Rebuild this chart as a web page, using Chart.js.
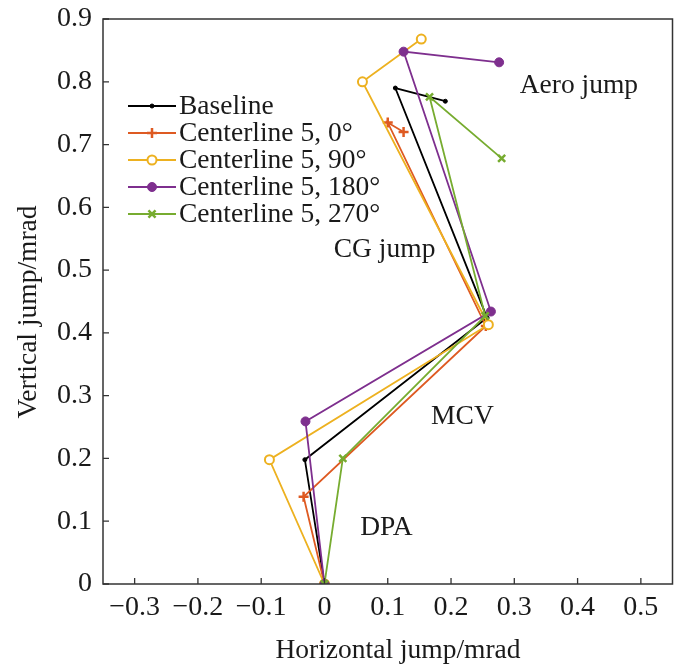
<!DOCTYPE html>
<html>
<head>
<meta charset="utf-8">
<title>Jump components</title>
<script src="https://cdn.jsdelivr.net/npm/chart.js@4/dist/chart.umd.min.js"></script>
<style>
  html, body { margin: 0; padding: 0; background: #fff; }
  #wrap { width: 680px; height: 669px; }
</style>
</head>
<body>
<div id="wrap"><canvas id="jump-chart" width="680" height="669"></canvas></div>
<script>
// Jump path for each case: origin -> DPA -> MCV -> CG jump -> aero jump
const seriesNames = ['Baseline', 'Centerline 5, 0°', 'Centerline 5, 90°', 'Centerline 5, 180°', 'Centerline 5, 270°'];

const baselineX = [0, -0.031, 0.257, 0.112, 0.191];
const baselineY = [0, 0.198, 0.424, 0.790, 0.769];

const deg0X = [0, -0.033, 0.255, 0.100, 0.125];
const deg0Y = [0, 0.139, 0.411, 0.735, 0.720];

const deg90X = [0, -0.087, 0.259, 0.060, 0.153];
const deg90Y = [0, 0.198, 0.413, 0.800, 0.868];

const deg180X = [0, -0.030, 0.263, 0.125, 0.276];
const deg180Y = [0, 0.259, 0.434, 0.848, 0.831];

const deg270X = [0, 0.029, 0.254, 0.166, 0.280];
const deg270Y = [0, 0.200, 0.427, 0.776, 0.678];

// Axis ranges and tick values
const xRange = [-0.35, 0.55];
const yRange = [0, 0.9];
const xTicks = [-0.3, -0.2, -0.1, 0, 0.1, 0.2, 0.3, 0.4, 0.5];
const yTicks = [0, 0.1, 0.2, 0.3, 0.4, 0.5, 0.6, 0.7, 0.8, 0.9];

// Region labels (text, x, y in data units)
const regionLabels = ['Aero jump', 'CG jump', 'MCV', 'DPA'];
const regionX = [0.402, 0.095, 0.218, 0.098];
const regionY = [0.793, 0.532, 0.266, 0.089];

const FONT = "'Liberation Serif', 'Times New Roman', serif";
const INK = '#1a1a1a';
const TEXT_SIZE = 27.5;
const TICK_SIZE = 28;

const styles = [
  { color: '#000000', pointStyle: 'circle',   radius: 2,   fill: true,  border: 1 },
  { color: '#DE5A22', pointStyle: 'cross',    radius: 5,   fill: false, border: 2.5 },
  { color: '#EDB120', pointStyle: 'circle',   radius: 4.5, fill: false, border: 2 },
  { color: '#7E2F8E', pointStyle: 'circle',   radius: 4.5, fill: true,  border: 1 },
  { color: '#77AC30', pointStyle: 'crossRot', radius: 5,   fill: false, border: 2.5 }
];

const xs = [baselineX, deg0X, deg90X, deg180X, deg270X];
const ys = [baselineY, deg0Y, deg90Y, deg180Y, deg270Y];

const datasets = seriesNames.map((name, i) => ({
  label: name,
  data: xs[i].map((x, k) => ({ x, y: ys[i][k] })),
  showLine: true,
  borderColor: styles[i].color,
  borderWidth: 1.8,
  pointStyle: styles[i].pointStyle,
  pointRadius: styles[i].radius,
  pointBorderWidth: styles[i].border,
  pointBorderColor: styles[i].color,
  pointBackgroundColor: styles[i].fill ? styles[i].color : '#ffffff',
  order: seriesNames.length - i
}));

// Box, inward ticks, axis titles, legend and region labels
const framePlugin = {
  id: 'frame',
  afterDraw(chart) {
    const { ctx, chartArea: a, scales } = chart;
    ctx.save();
    ctx.strokeStyle = '#333';
    ctx.lineWidth = 1.5;
    ctx.strokeRect(a.left, a.top, a.right - a.left, a.bottom - a.top);

    ctx.lineWidth = 1.3;
    ctx.beginPath();
    scales.x.ticks.forEach(t => {
      const px = scales.x.getPixelForValue(t.value);
      ctx.moveTo(px, a.bottom);
      ctx.lineTo(px, a.bottom - 6);
    });
    scales.y.ticks.forEach(t => {
      const py = scales.y.getPixelForValue(t.value);
      ctx.moveTo(a.left, py);
      ctx.lineTo(a.left + 6, py);
    });
    ctx.stroke();

    ctx.fillStyle = INK;
    ctx.font = `${TEXT_SIZE}px ${FONT}`;
    ctx.textAlign = 'center';
    ctx.textBaseline = 'middle';
    ctx.fillText('Horizontal jump/mrad', 398, 651);

    ctx.save();
    ctx.translate(29, 312);
    ctx.rotate(-Math.PI / 2);
    ctx.fillText('Vertical jump/mrad', 0, 0);
    ctx.restore();

    // region labels
    regionLabels.forEach((txt, i) => {
      ctx.fillText(txt, scales.x.getPixelForValue(regionX[i]), scales.y.getPixelForValue(regionY[i]));
    });

    // legend
    ctx.textAlign = 'left';
    const lx0 = 128, lx1 = 176, tx = 179, ly0 = 106, dy = 27;
    chart.data.datasets.forEach((ds, i) => {
      const y = ly0 + i * dy;
      ctx.strokeStyle = ds.borderColor;
      ctx.lineWidth = 1.8;
      ctx.beginPath();
      ctx.moveTo(lx0, y);
      ctx.lineTo(lx1, y);
      ctx.stroke();
      ctx.fillStyle = ds.pointBackgroundColor;
      ctx.strokeStyle = ds.pointBorderColor;
      ctx.lineWidth = ds.pointBorderWidth;
      Chart.helpers.drawPoint(ctx, {
        pointStyle: ds.pointStyle,
        radius: ds.pointRadius,
        rotation: 0,
        borderWidth: ds.pointBorderWidth
      }, (lx0 + lx1) / 2, y);
      ctx.fillStyle = INK;
      ctx.fillText(ds.label, tx, y + 1);
    });
    ctx.restore();
  }
};

const tickLabel = v => {
  if (Math.abs(v) < 1e-9) return '0';
  const s = Math.abs(v).toFixed(1);
  return v < 0 ? '\u2212' + s : s;
};

new Chart(document.getElementById('jump-chart'), {
  type: 'scatter',
  data: { datasets },
  options: {
    responsive: false,
    animation: false,
    events: [],
    layout: { padding: { top: 19, right: 7, left: 0, bottom: 0 } },
    plugins: {
      legend: { display: false },
      tooltip: { enabled: false }
    },
    scales: {
      x: {
        type: 'linear',
        min: xRange[0],
        max: xRange[1],
        grid: { display: false, drawTicks: false },
        border: { display: false },
        ticks: {
          padding: 7,
          color: INK,
          font: { family: FONT, size: TICK_SIZE },
          maxRotation: 0,
          autoSkip: false,
          callback: tickLabel
        },
        afterBuildTicks(scale) { scale.ticks = xTicks.map(value => ({ value })); },
        afterFit(scale) {
          scale.height = 85;
          scale.paddingLeft = 0;
          scale.paddingRight = 0;
        }
      },
      y: {
        type: 'linear',
        min: yRange[0],
        max: yRange[1],
        grid: { display: false, drawTicks: false },
        border: { display: false },
        ticks: {
          padding: 11,
          color: INK,
          font: { family: FONT, size: TICK_SIZE },
          autoSkip: false,
          callback: tickLabel
        },
        afterBuildTicks(scale) { scale.ticks = yTicks.map(value => ({ value })); },
        afterFit(scale) {
          scale.width = 103;
          scale.paddingTop = 0;
          scale.paddingBottom = 0;
        }
      }
    }
  },
  plugins: [framePlugin]
});
</script>
</body>
</html>
